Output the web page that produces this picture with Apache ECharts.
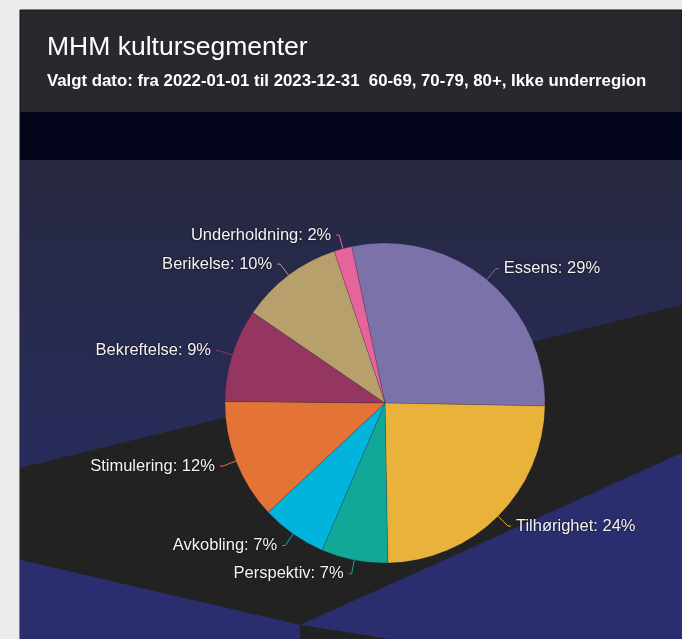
<!DOCTYPE html>
<html>
<head>
<meta charset="utf-8">
<script src="https://cdn.jsdelivr.net/npm/echarts@6/dist/echarts.min.js"></script>
<style>
  html, body { margin: 0; padding: 0; background: #ececec; }
  #chart { width: 682px; height: 639px; }
</style>
</head>
<body>
<div id="chart"></div>
<script>
// segment names, clockwise from the top
const segments = ['Essens', 'Tilhørighet', 'Perspektiv', 'Avkobling', 'Stimulering', 'Bekreftelse', 'Berikelse', 'Underholdning'];
const shares = [28.6, 24.4, 6.7, 6.6, 12.1, 9.4, 10.3, 1.8];
const segmentColors = ['#7a72a8', '#e9b33b', '#12a898', '#02b3dc', '#e37436', '#953660', '#b8a06c', '#e5649c'];

const titleText = 'MHM kultursegmenter';
const subText = 'Valgt dato: fra 2022-01-01 til 2023-12-31  60-69, 70-79, 80+, Ikke underregion';

const chart = echarts.init(document.getElementById('chart'));

const option = {
  backgroundColor: '#ececec',
  title: {
    text: titleText,
    subtext: subText,
    left: 47,
    top: 34,
    padding: 0,
    itemGap: 12,
    textStyle: { color: '#fff', fontSize: 26.5, fontWeight: 'normal', fontFamily: 'Arial, Liberation Sans' },
    subtextStyle: { color: '#fff', fontSize: 16.8, fontWeight: 'bold', fontFamily: 'Arial, Liberation Sans' },
  },
  // panel, dark band and the geometric backdrop
  graphic: [
    { type: 'rect', z: -10, shape: { x: 20, y: 10, width: 662, height: 629 },
      style: { fill: '#28282e', stroke: '#111', lineWidth: 1 } },
    { type: 'rect', z: -9, shape: { x: 20, y: 112, width: 662, height: 48 },
      style: { fill: '#03051a' } },
    { type: 'rect', z: -9, shape: { x: 20, y: 160, width: 662, height: 479 },
      style: { fill: new echarts.graphic.LinearGradient(0, 0, 0, 1, [
        { offset: 0, color: '#262840' },
        { offset: 1, color: '#2a2e6a' },
      ]) } },
    { type: 'polygon', z: -8, shape: { points: [[20, 468], [682, 305], [682, 453], [300, 625], [20, 560]] },
      style: { fill: '#222222' } },
    { type: 'polygon', z: -8, shape: { points: [[20, 560], [300, 625], [300, 639], [20, 639]] },
      style: { fill: '#2a2e6e' } },
    { type: 'polygon', z: -8, shape: { points: [[300, 625], [682, 453], [682, 639], [390, 639]] },
      style: { fill: '#2a2e6e' } },
    { type: 'polygon', z: -8, shape: { points: [[300, 625], [390, 639], [300, 639]] },
      style: { fill: '#222222' } },
  ],
  series: [
    {
      type: 'pie',
      center: [385, 403],
      radius: 160,
      startAngle: 102,
      percentPrecision: 0,
      itemStyle: { borderColor: 'rgba(30,30,50,0.4)', borderWidth: 0.5 },
      label: {
        formatter: '{b}: {d}%',
        color: '#f4f4f4',
        fontSize: 16.5,
        fontFamily: 'Arial, Liberation Sans',
        textShadowColor: 'rgba(0,0,0,0.9)',
        textShadowBlur: 2,
      },
      labelLine: { length: 14, length2: 3, lineStyle: { width: 1 } },
      data: segments.map((name, i) => ({
        name: name,
        value: shares[i],
        itemStyle: { color: segmentColors[i] },
      })),
    },
  ],
};

chart.setOption(option);
</script>
</body>
</html>
